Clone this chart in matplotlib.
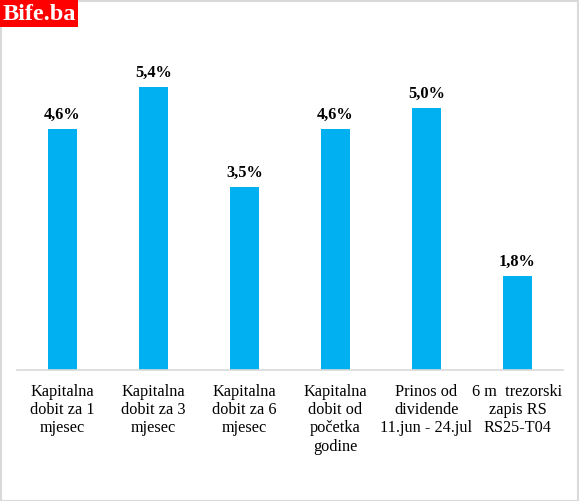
import matplotlib
matplotlib.use("Agg")
import matplotlib.pyplot as plt
from matplotlib.patches import Rectangle

categories = ["Kapitalna\ndobit za 1\nmjesec",
              "Kapitalna\ndobit za 3\nmjesec",
              "Kapitalna\ndobit za 6\nmjesec",
              "Kapitalna\ndobit od\npočetka\ngodine",
              "Prinos od\ndividende\n11.jun - 24.jul",
              "6 m  trezorski\nzapis RS\nRS25-T04"]
values = [4.6, 5.4, 3.5, 4.6, 5.0, 1.8]
value_labels = ["4,6%", "5,4%", "3,5%", "4,6%", "5,0%", "1,8%"]

plt.rcParams["font.family"] = ["Liberation Serif", "DejaVu Serif"]

W, H = 579, 502
fig = plt.figure(figsize=(W / 100, H / 100), dpi=100)
ax = fig.add_axes([17 / W, 131 / H, 546 / W, 331 / H])

x = list(range(len(values)))
ax.bar(x, values, width=0.31, color="#00B0F0")
for xi, v, lab in zip(x, values, value_labels):
    ax.annotate(lab, (xi, v), xytext=(0, 5), textcoords="offset points",
                ha="center", va="bottom", fontsize=11.8, fontweight="bold")

ax.set_xlim(-0.5, len(values) - 0.5)
ax.set_ylim(0, 6.32)
ax.set_xticks(x)
ax.set_xticklabels(categories, fontsize=11.7, linespacing=1.2)
ax.tick_params(axis="x", length=0, pad=9)
ax.set_yticks([])
for s in ("top", "right", "left"):
    ax.spines[s].set_visible(False)
ax.spines["bottom"].set_color("#d9d9d9")
ax.spines["bottom"].set_linewidth(1.2)

# outer frame and logo
fig.patches.append(Rectangle((0.5 / W, 0.5 / H), (W - 2) / W, (H - 2) / H,
                             transform=fig.transFigure, fill=False,
                             edgecolor="#d9d9d9", lw=1.5))
fig.patches.append(Rectangle((0, 1 - 28 / H), 78 / W, 28 / H,
                             transform=fig.transFigure, color="#ff0000", lw=0))
fig.text(2.5 / W, 1 - 14.5 / H, "Bife.ba", color="white", fontsize=17.5,
         fontweight="bold", ha="left", va="center")

fig.savefig("out.png", dpi=100)
